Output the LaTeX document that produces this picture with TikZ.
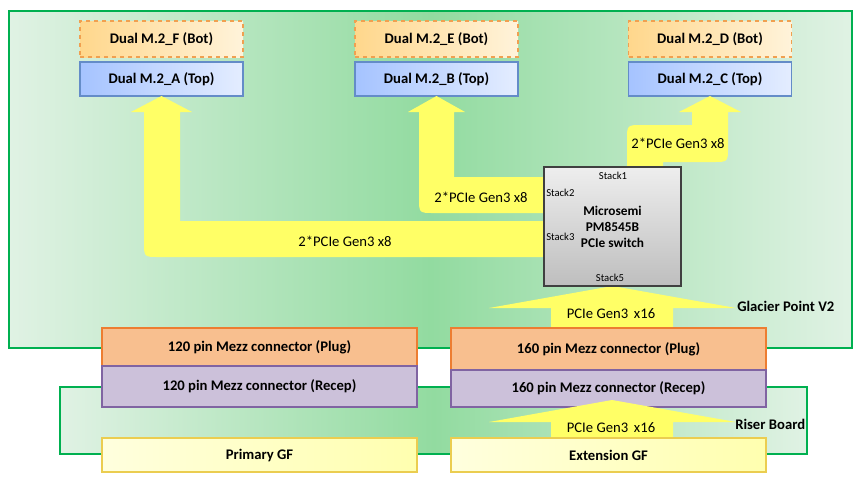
\documentclass[tikz,border=0pt]{standalone}
\usepackage{fontspec}
\setmainfont{Carlito}
\newlength\upx
\setlength\upx{0.75pt}
\definecolor{gborder}{RGB}{0,176,80}
\definecolor{glight}{RGB}{224,242,228}
\definecolor{gmid}{RGB}{146,219,160}
\definecolor{yel}{RGB}{255,255,102}
\definecolor{botL}{RGB}{255,215,140}
\definecolor{botR}{RGB}{255,243,218}
\definecolor{botD}{RGB}{240,160,80}
\definecolor{topL}{RGB}{165,195,255}
\definecolor{topR}{RGB}{228,237,255}
\definecolor{topD}{RGB}{100,140,200}
\definecolor{plugF}{RGB}{248,191,143}
\definecolor{plugD}{RGB}{237,125,49}
\definecolor{recF}{RGB}{204,193,218}
\definecolor{recD}{RGB}{128,100,162}
\definecolor{gfL}{RGB}{255,255,222}
\definecolor{gfR}{RGB}{255,255,175}
\definecolor{gfD}{RGB}{235,205,80}
\definecolor{swT}{RGB}{238,238,238}
\definecolor{swB}{RGB}{190,190,190}
\begin{document}
\begin{tikzpicture}[x=0.75pt,y=-0.75pt,
  board/.style={draw=gborder,line width=1.2pt,inner sep=0pt,outer sep=0pt,
    left color=glight,right color=glight,middle color=gmid},
  box/.style={inner sep=0pt,outer sep=0pt,font=\fontsize{11}{13}\selectfont\bfseries,line width=0.8pt},
  botbox/.style={box,draw=botD,dashed,left color=botL,right color=botR,minimum width=163\upx,minimum height=36\upx},
  topbox/.style={box,draw=topD,left color=topL,right color=topR,minimum width=163\upx,minimum height=34\upx},
  plugbox/.style={box,draw=plugD,fill=plugF,minimum width=315\upx},
  recbox/.style={box,draw=recD,fill=recF,minimum width=315\upx},
  gfbox/.style={box,draw=gfD,left color=gfL,right color=gfR,minimum width=315\upx,minimum height=34\upx},
  lbl/.style={inner sep=0pt,font=\fontsize{11}{13}\selectfont},
  blbl/.style={inner sep=0pt,font=\fontsize{11}{13}\selectfont\bfseries},
  stk/.style={inner sep=0pt,font=\fontsize{8}{9}\selectfont},
  yarrow/.style={fill=yel}
]
\useasboundingbox (0,0) rectangle (859,479);
% boards
\node[board,minimum width=843\upx,minimum height=337\upx] (GP) at (430.5,179.5) {};
\node[board,minimum width=747\upx,minimum height=67\upx] (RB) at (433.5,420.5) {};
% M.2 boxes
\node[botbox] (F) at (161.5,39) {Dual M.2\_F (Bot)};
\node[botbox] (E) at (436.5,39) {Dual M.2\_E (Bot)};
\node[botbox] (D) at (710,39) {Dual M.2\_D (Bot)};
\node[topbox] (A) at (161.5,79) {Dual M.2\_A (Top)};
\node[topbox] (B) at (436.5,79) {Dual M.2\_B (Top)};
\node[topbox] (C) at (710,79) {Dual M.2\_C (Top)};
% switch
\node[box,draw=black!75,top color=swT,bottom color=swB,minimum width=137\upx,minimum height=119\upx] (SW) at (612.5,226.5) {};
% yellow arrows
\fill[yarrow] (A.south) -- (192,112) -- (180,112) -- (180,221) -- (SW.west |- 0,221) -- (SW.west |- 0,257) -- (159,257) .. controls (144,257) .. (144,242) -- (144,112) -- (131,112) -- cycle;
\fill[yarrow] (B.south) -- (465,112) -- (454,112) -- (454,177) -- (SW.west |- 0,177) -- (SW.west |- 0,213) -- (434,213) .. controls (419,213) .. (419,198) -- (419,112) -- (408,112) -- cycle;
\fill[yarrow] (C.south) -- (741,112) -- (728,112) -- (728,147) .. controls (728,162) .. (713,162) -- (663,162) -- (663,167) -- (627,167) -- (627,140) .. controls (627,125) .. (642,125) -- (692,125) -- (692,112) -- (679,112) -- cycle;
\fill[yarrow] (SW.south) -- (736,308) -- (673,308) -- (673,328) -- (551,328) -- (551,308) -- (489,308) -- cycle;
% switch redraw on top
\node[box,draw=black!75,top color=swT,bottom color=swB,minimum width=137\upx,minimum height=119\upx,align=center,font=\fontsize{10}{12}\selectfont\bfseries] (SW2) at (612.5,226.5) {Microsemi\\PM8545B\\PCIe switch};
\node[stk] (s1) at (613,176) {Stack1};
\node[stk,anchor=west] (s2) at (546,193) {Stack2};
\node[stk,anchor=west] (s3) at (546,237) {Stack3};
\node[stk] (s5) at (610,278) {Stack5};
% arrow labels
\node[lbl] (t1) at (345,241) {2*PCIe Gen3 x8};
\node[lbl] (t2) at (481,197) {2*PCIe Gen3 x8};
\node[lbl] (t3) at (678,143) {2*PCIe Gen3 x8};
\node[lbl] (t4) at (611,314) {PCIe Gen3\, x16};
\node[blbl,anchor=west] (gpv) at (737,306) {Glacier Point V2};
% connectors
\node[plugbox,minimum height=38\upx] (P1) at (259.5,347) {120 pin Mezz connector (Plug)};
\node[recbox,minimum height=41\upx] (R1) at (259.5,386.5) {120 pin Mezz connector (Recep)};
\node[plugbox,minimum height=42\upx] (P2) at (608.5,349) {160 pin Mezz connector (Plug)};
\node[recbox,minimum height=37\upx] (R2) at (608.5,388.5) {160 pin Mezz connector (Recep)};
\fill[yarrow] (612,400) coordinate (tipL) -- (736,422) -- (673,422) -- (673,438) -- (551,438) -- (551,422) -- (489,422) -- cycle;
\node[lbl] (t5) at (611,428) {PCIe Gen3\, x16};
\node[blbl,anchor=west] (rbl) at (735,424) {Riser Board};
\node[gfbox] (PGF) at (259.5,455) {\raisebox{-3\upx}{Primary GF}};
\node[gfbox] (EGF) at (608.5,455) {Extension GF};
\end{tikzpicture}
\end{document}
